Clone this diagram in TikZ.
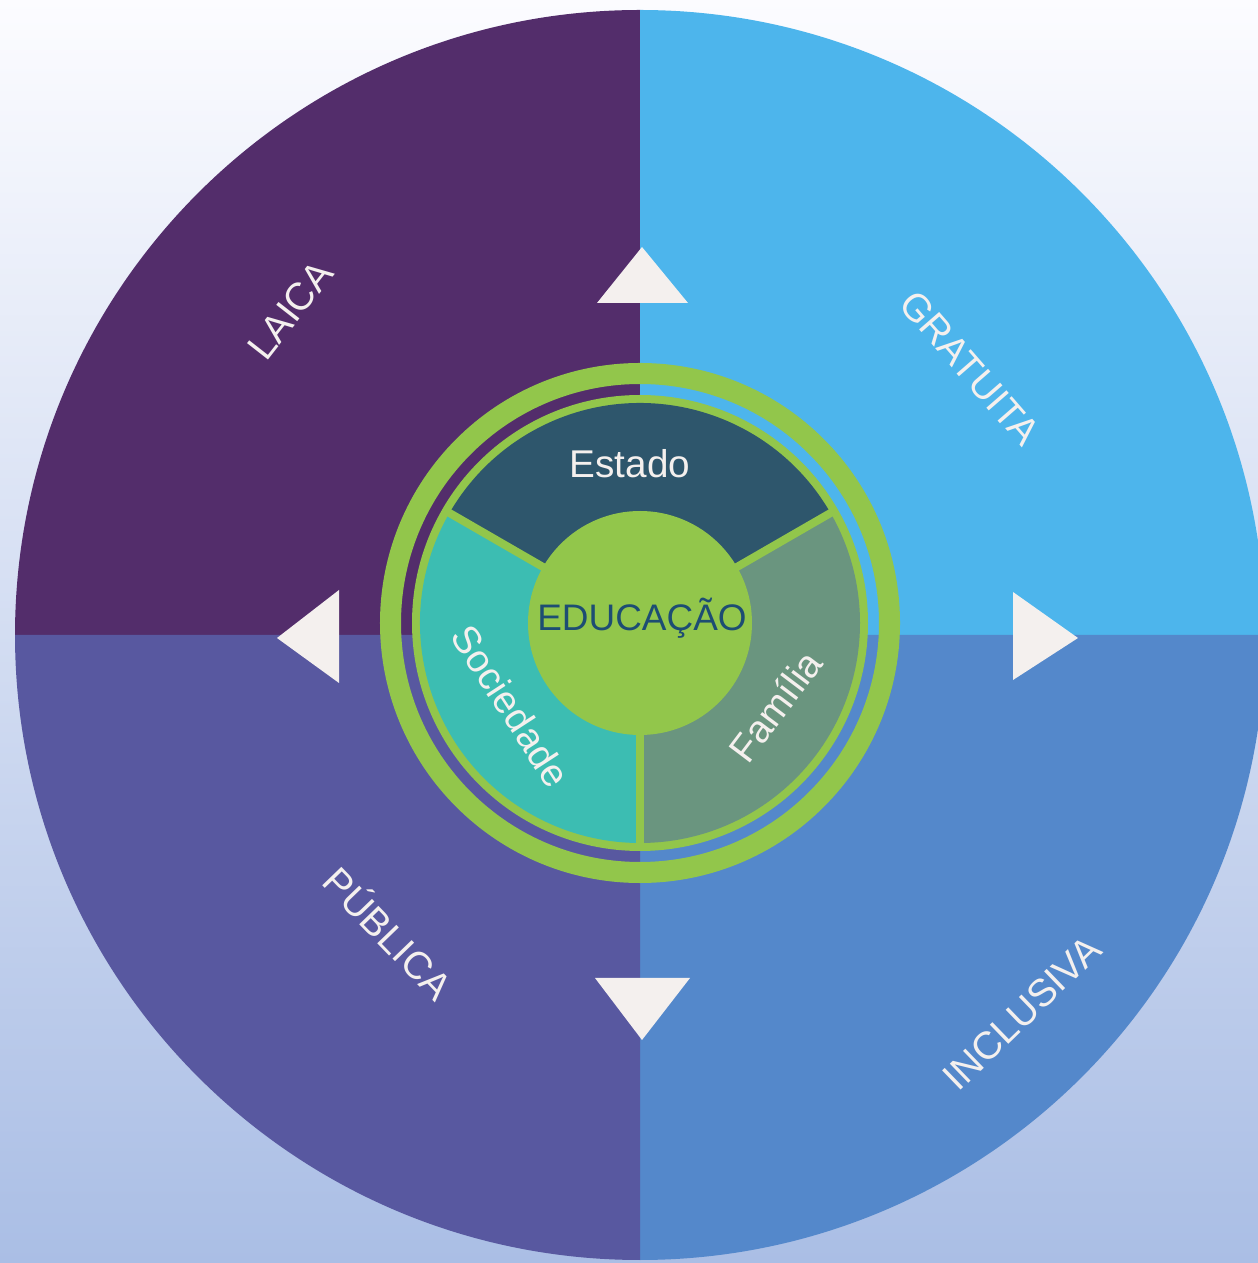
\documentclass[tikz,border=0pt]{standalone}
\usepackage{fontspec}
\setmainfont{Liberation Sans}
\usepackage{tikz}

\definecolor{laica}{HTML}{532D6B}
\definecolor{gratuita}{HTML}{4DB5EC}
\definecolor{publica}{HTML}{5858A0}
\definecolor{inclusiva}{HTML}{5488CB}
\definecolor{lime}{HTML}{92C64B}
\definecolor{estado}{HTML}{2E566C}
\definecolor{sociedade}{HTML}{3CBDB2}
\definecolor{familia}{HTML}{6A957F}
\definecolor{eduText}{HTML}{1D4D73}
\definecolor{pale}{HTML}{F4F0EE}

\begin{document}
\begin{tikzpicture}[x=0.01cm, y=0.01cm,
    word/.style={text=pale, font=\fontsize{11}{13}\selectfont},
    arrowhead/.style={fill=pale}]
    \useasboundingbox (0,0) rectangle (1258,1263);
    \shade [top color=white!70!blue!4, bottom color={rgb,255:red,170;green,190;blue,229}]
        (0,0) rectangle (1258,1263);

    % four quarters
    \fill [laica] (640,628) -- ++(180:625) arc [start angle=180, end angle=90, radius=625] -- cycle;
    \fill [gratuita] (640,628) -- ++(90:625) arc [start angle=90, end angle=0, radius=625] -- cycle;
    \fill [inclusiva] (640,628) -- ++(0:625) arc [start angle=0, end angle=-90, radius=625] -- cycle;
    \fill [publica] (640,628) -- ++(-90:625) arc [start angle=-90, end angle=-180, radius=625] -- cycle;

    \node [word, rotate=52] (laica) at (290,953) {LAICA};
    \node [word, rotate=-49] (gratuita) at (970,895) {GRATUITA};
    \node [word, rotate=-46] (publica) at (390,331) {PÚBLICA};
    \node [word, rotate=44] (inclusiva) at (1022,250) {INCLUSIVA};

    % pointers
    \fill [arrowhead] (597,960) -- (688,960) -- (642,1016) -- cycle;
    \fill [arrowhead] (339,580) -- (339,673) -- (277,625) -- cycle;
    \fill [arrowhead] (595,285) -- (690,285) -- (642,223) -- cycle;
    \fill [arrowhead] (1013,583) -- (1013,671) -- (1078,625) -- cycle;

    % centre
    \begin{scope}[shift={(640,640)}]
        \draw [lime, line width=0.21cm] (0,0) circle [radius=249.5];
        \fill [lime] (0,0) circle [radius=228];
        \fill [estado] (0,0) -- (30:220) arc [start angle=30, end angle=150, radius=220] -- cycle;
        \fill [sociedade] (0,0) -- (150:220) arc [start angle=150, end angle=270, radius=220] -- cycle;
        \fill [familia] (0,0) -- (270:220) arc [start angle=270, end angle=390, radius=220] -- cycle;
        \foreach \a in {30,150,270}
            \draw [lime, line width=0.08cm] (0,0) -- (\a:224);
        \fill [lime] (0,0) circle [radius=112];
    \end{scope}

    \node [word] (estado) at (630,799) {Estado};
    \node [word, rotate=-57] (sociedade) at (511,557) {Sociedade};
    \node [word, rotate=53] (familia) at (775,557) {Família};
    \node [text=eduText, font=\fontsize{10.5}{12}\selectfont] (educacao) at (642,645) {EDUCAÇÃO};
\end{tikzpicture}
\end{document}
